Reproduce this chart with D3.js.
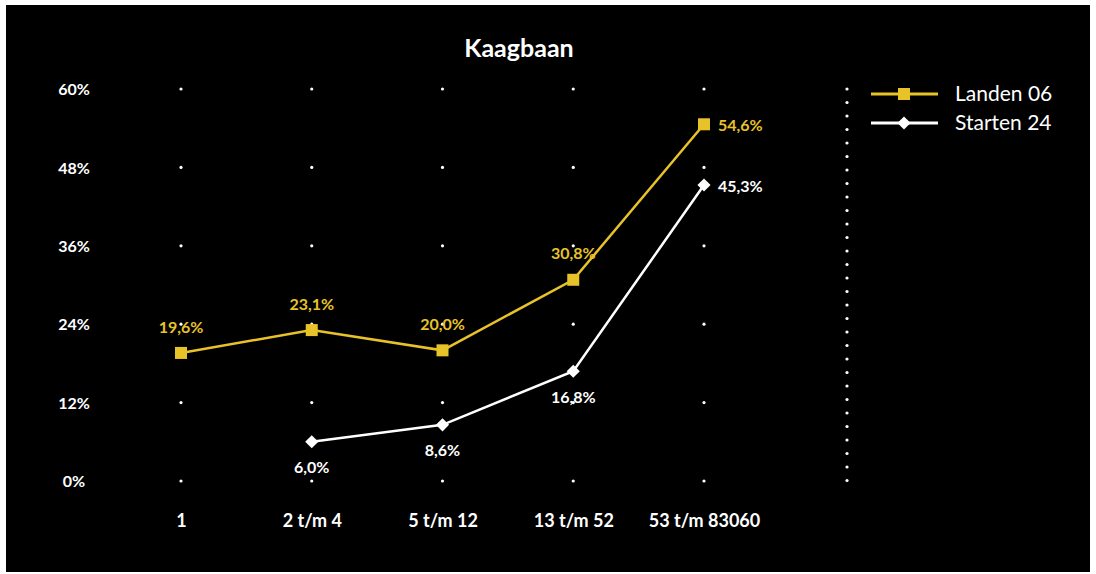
<!DOCTYPE html>
<html><head><meta charset="utf-8">
<script src="https://cdn.jsdelivr.net/npm/d3@7"></script>
<style>html,body{margin:0;padding:0;background:#fff;}svg{display:block;}</style>
</head><body>
<svg id="chart" width="1096" height="574"></svg>
<script>
const categories = ["1", "2 t/m 4", "5 t/m 12", "13 t/m 52", "53 t/m 83060"];
const landen = [19.6, 23.1, 20.0, 30.8, 54.6];
const starten = [null, 6.0, 8.6, 16.8, 45.3];
const yTicks = [0, 12, 24, 36, 48, 60];
const seriesNames = ["Landen 06", "Starten 24"];
const title = "Kaagbaan";

const W = 1096, H = 574;
const yellow = "#e8c229", white = "#ffffff";
const font = "Lato, 'Open Sans', sans-serif";
const svg = d3.select("#chart");
svg.append("rect").attr("x", 6).attr("y", 5).attr("width", 1084).attr("height", 567).attr("fill", "#000");

const x = d3.scalePoint().domain(categories).range([181, 704]);
const y = d3.scaleLinear().domain([0, 60]).range([481, 89]);
const fmt = v => v.toFixed(1).replace(".", ",") + "%";

svg.append("text").attr("x", 519).attr("y", 57).attr("text-anchor", "middle")
  .attr("fill", white).attr("font-family", font).attr("font-weight", 700).attr("font-size", 25).text(title);

// grid dots at intersections
const g = svg.append("g");
yTicks.forEach(t => categories.forEach(c => {
  g.append("circle").attr("cx", x(c)).attr("cy", y(t)).attr("r", 1.6).attr("fill", white);
}));

// y axis labels
const yAxis = d3.axisLeft(y).tickValues(yTicks).tickFormat(d => d + "%").tickSize(0);
const ya = svg.append("g").attr("transform", "translate(74,0)").call(yAxis);
ya.select(".domain").remove();
ya.selectAll("text").attr("x", 0).attr("text-anchor", "middle").attr("dy", "0.35em")
  .attr("fill", white).attr("font-family", font).attr("font-weight", 700).attr("font-size", 16);

// x axis labels
const xAxis = d3.axisBottom(x).tickSize(0);
const xa = svg.append("g").attr("transform", "translate(0,514)").call(xAxis);
xa.select(".domain").remove();
xa.selectAll("text").attr("y", 0).attr("dy", "0.71em")
  .attr("fill", white).attr("font-family", font).attr("font-weight", 700).attr("font-size", 18);

// dotted vertical separator
const sepY = d3.range(0, 30).map(i => 89 + i * 13.5).filter(v => v <= 482);
sepY.forEach(v => svg.append("circle").attr("cx", 847).attr("cy", v).attr("r", 1.6).attr("fill", white));

const line = d3.line().defined(d => d[1] != null).x(d => x(d[0])).y(d => y(d[1]));
const lData = categories.map((c, i) => [c, landen[i]]);
const sData = categories.map((c, i) => [c, starten[i]]);

svg.append("path").datum(lData).attr("d", line).attr("fill", "none").attr("stroke", yellow).attr("stroke-width", 2.5);
svg.append("path").datum(sData).attr("d", line).attr("fill", "none").attr("stroke", white).attr("stroke-width", 2.5);

lData.forEach(d => {
  svg.append("rect").attr("x", x(d[0]) - 6).attr("y", y(d[1]) - 6).attr("width", 12).attr("height", 12).attr("fill", yellow);
});
const diamond = d3.symbol().type(d3.symbolDiamond2).size(110);
sData.filter(d => d[1] != null).forEach(d => {
  svg.append("path").attr("d", diamond).attr("transform", `translate(${x(d[0])},${y(d[1])})`).attr("fill", white);
});

// labels
lData.forEach((d, i) => {
  const last = i === lData.length - 1;
  svg.append("text").attr("x", last ? x(d[0]) + 14 : x(d[0]))
    .attr("y", last ? y(d[1]) + 1 : y(d[1]) - 26).attr("dy", "0.35em")
    .attr("text-anchor", last ? "start" : "middle")
    .attr("fill", yellow).attr("font-family", font).attr("font-weight", 700).attr("font-size", 16).text(fmt(d[1]));
});
sData.forEach((d, i) => {
  if (d[1] == null) return;
  const last = i === sData.length - 1;
  svg.append("text").attr("x", last ? x(d[0]) + 14 : x(d[0]))
    .attr("y", last ? y(d[1]) + 1 : y(d[1]) + 26).attr("dy", "0.35em")
    .attr("text-anchor", last ? "start" : "middle")
    .attr("fill", white).attr("font-family", font).attr("font-weight", 700).attr("font-size", 16).text(fmt(d[1]));
});

// legend
const legend = svg.append("g");
[[seriesNames[0], yellow, "sq", 94], [seriesNames[1], white, "di", 123]].forEach(([name, col, m, ly]) => {
  legend.append("line").attr("x1", 871).attr("x2", 938).attr("y1", ly).attr("y2", ly).attr("stroke", col).attr("stroke-width", 3);
  if (m === "sq") legend.append("rect").attr("x", 898).attr("y", ly - 6).attr("width", 12).attr("height", 12).attr("fill", col);
  else legend.append("path").attr("d", diamond).attr("transform", `translate(904,${ly})`).attr("fill", col);
  legend.append("text").attr("x", 955).attr("y", ly).attr("dy", "0.35em").attr("fill", white)
    .attr("font-family", font).attr("font-size", 21).text(name);
});
</script>
</body></html>
